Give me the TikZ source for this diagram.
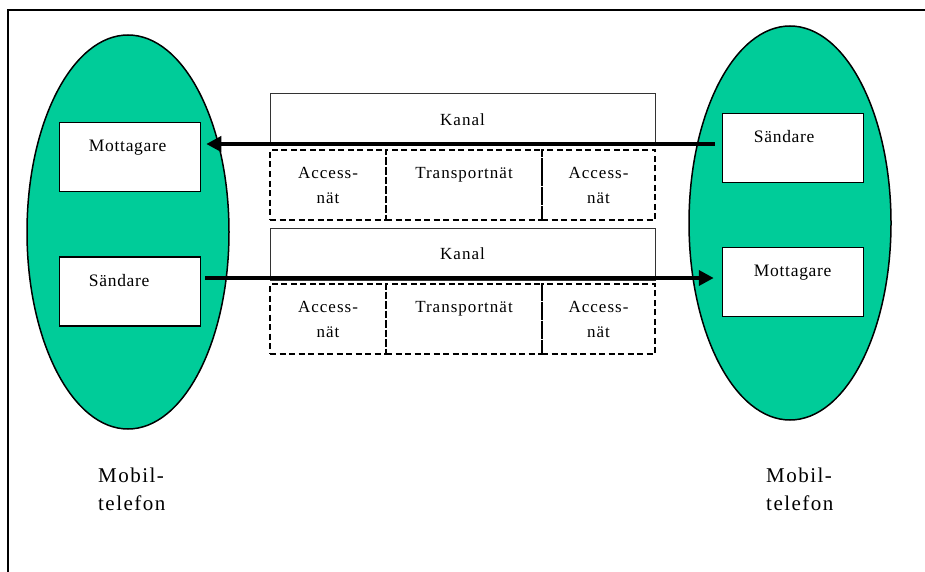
\documentclass[tikz,border=0pt]{standalone}
\usepackage{fontspec}
\setmainfont{Liberation Serif}
\usetikzlibrary{shapes.geometric,arrows.meta}
\definecolor{phonegreen}{RGB}{0,204,153}

\tikzset{
  phone/.style={ellipse,draw,fill=phonegreen,line width=1.5pt,minimum width=202pt,minimum height=394pt},
  unit/.style={draw,fill=white,line width=1.5pt,minimum width=141pt,minimum height=69pt,inner sep=0pt},
  utext/.style={anchor=base west,inner sep=0pt,font=\fontsize{17.5}{21}\selectfont\addfontfeature{LetterSpace=4}},
  chan/.style={draw=black!80,line width=1pt,minimum width=385pt,minimum height=52pt,inner sep=0pt,
    font=\fontsize{17}{25}\selectfont\addfontfeature{LetterSpace=6}},
  net/.style={draw,dash pattern=on 6pt off 3.5pt,line width=2.5pt,minimum height=70pt,inner sep=0pt,align=center,
    font=\fontsize{17}{25}\selectfont\addfontfeature{LetterSpace=6}},
  ptext/.style={anchor=base west,inner sep=0pt,align=left,font=\fontsize{21}{28}\selectfont\addfontfeature{LetterSpace=7}},
  sig/.style={line width=4.5pt,-{Triangle[length=15pt,width=15pt]}}
}

\begin{document}
\begin{tikzpicture}[x=1pt,y=-1pt]
\useasboundingbox (0,0) rectangle (925,572);
\draw[line width=1.2pt] (8,572) -- (8,10) -- (925,10);

% the two phones
\node[phone] (lphone) at (128,232) {};
\node[phone] (rphone) at (790,223) {};
\node[unit] (lmot) at (130,157) {};
\node[unit] (lsnd) at (130,291.5) {};
\node[unit] (rsnd) at (793,148) {};
\node[unit] (rmot) at (793,282) {};
\node[utext] at ([shift={(30,30)}]lmot.north west) {Mottagare};
\node[utext] at ([shift={(30,30)}]lsnd.north west) {Sändare};
\node[utext] at ([shift={(32,30)}]rsnd.north west) {Sändare};
\node[utext] at ([shift={(32,30)}]rmot.north west) {Mottagare};

% upper channel
\node[chan] (kan1) at (462.5,120) {Kanal};
\node[net,minimum width=116pt] (acc1) at (328,185) {Access-\\nät};
\node[net,minimum width=156pt] (tra1) at (464,185) {Transportnät\\\mbox{}};
\node[net,minimum width=113pt] (acc2) at (598.5,185) {Access-\\nät};

% lower channel
\node[chan] (kan2) at (462.5,254) {Kanal};
\node[net,minimum width=116pt] (acc3) at (328,319) {Access-\\nät};
\node[net,minimum width=156pt] (tra2) at (464,319) {Transportnät\\\mbox{}};
\node[net,minimum width=113pt] (acc4) at (598.5,319) {Access-\\nät};

\draw[sig,shorten <=7pt,shorten >=5pt] (rsnd.west |- 0,144) -- (lmot.east |- 0,144);
\draw[sig,shorten <=4pt,shorten >=8pt] (lsnd.east |- 0,278) -- (rmot.west |- 0,278);

% base is the last line here
\node[ptext] (lname) at (98,510) {Mobil-\\telefon};
\node[ptext] (rname) at (766,510) {Mobil-\\telefon};
\end{tikzpicture}
\end{document}
